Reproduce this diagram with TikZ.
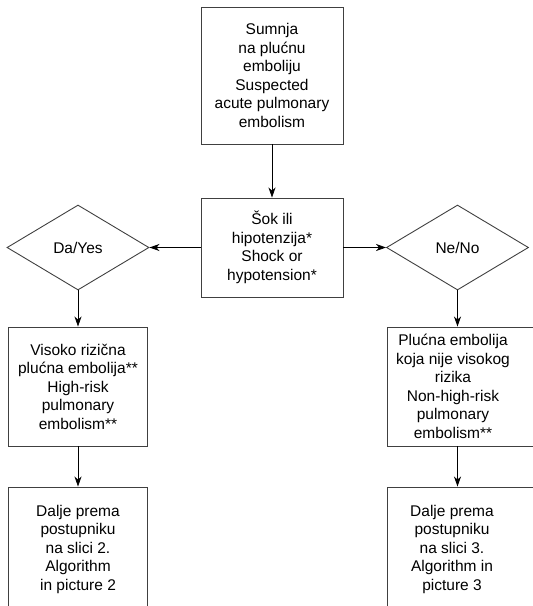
\documentclass[tikz,border=0pt]{standalone}
\usepackage{fontspec}
\setmainfont{Liberation Sans}
\usetikzlibrary{shapes.geometric,arrows.meta}
\begin{document}
\begin{tikzpicture}[x=1pt,y=-1pt,
  lbl/.style={font=\fontsize{15.5}{18.5}\selectfont, align=center},
  box/.style={lbl, draw=black!75, line width=0.9pt, rectangle, inner sep=0pt},
  dec/.style={lbl, draw=black!75, line width=0.9pt, diamond, inner sep=0pt, minimum width=142pt, minimum height=85pt},
  txt/.style={lbl, inner sep=0pt},
  arr/.style={-{Stealth[length=10pt,width=7pt,inset=3pt]}, line width=0.8pt, black}
]
\useasboundingbox (0,0) rectangle (533,606);
\node[box, minimum width=142pt, minimum height=137pt] (top) at (272,75.5) {Sumnja\\na plućnu\\emboliju\\Suspected\\acute pulmonary\\embolism};
\node[box, minimum width=142pt, minimum height=99pt] (mid) at (272,247.5) {Šok ili\\hipotenzija*\\Shock or\\hypotension*};
\node[dec] (yes) at (78,247.5) {Da/Yes};
\node[dec] (no) at (457.5,247.5) {Ne/No};
\node[box, minimum width=139pt, minimum height=119pt] (hr) at (78,386.5) {Visoko rizična\\plućna embolija**\\High-risk\\pulmonary\\embolism**};
\node[box, minimum width=160pt, minimum height=119pt] (nhr) at (467,386.5) {};
\node[txt] (nhrt) at (453,386.5) {Plućna embolija\\koja nije visokog\\rizika\\Non-high-risk\\pulmonary\\embolism**};
\node[box, minimum width=139pt, minimum height=124pt] (a2) at (78,549) {Dalje prema\\postupniku\\na slici 2.\\Algorithm\\in picture 2};
\node[box, minimum width=160pt, minimum height=124pt] (a3) at (467,549) {};
\node[txt] (a3t) at (452,549) {Dalje prema\\postupniku\\na slici 3.\\Algorithm in\\picture 3};
\draw[arr] (top) -- (mid);
\draw[arr] (mid) -- (yes);
\draw[arr] (mid) -- (no);
\draw[arr] (yes) -- (hr);
\draw[arr] (hr) -- (a2);
\draw[arr] (no.south) -- (no.south |- nhr.north);
\draw[arr] (no.south |- nhr.south) -- (no.south |- a3.north);
\end{tikzpicture}
\end{document}
